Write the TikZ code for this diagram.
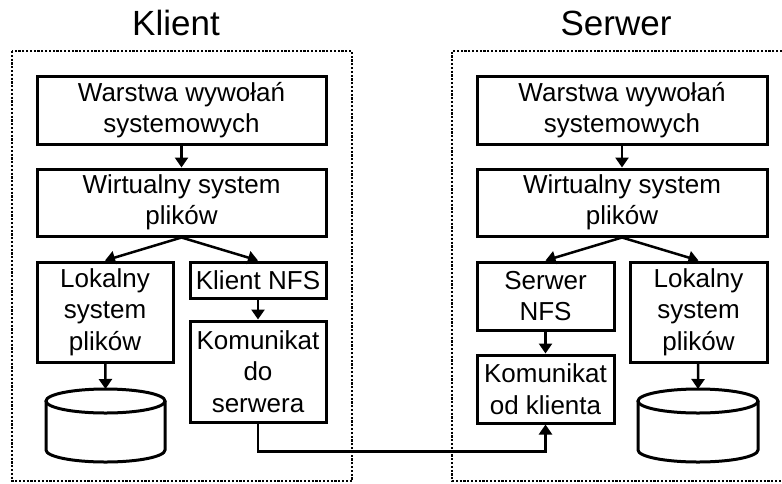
\documentclass[tikz,border=0pt]{standalone}
\usepackage{fontspec}
\setmainfont{Liberation Sans}
\usepackage{tikz}
\usetikzlibrary{arrows.meta}

\begin{document}
\begin{tikzpicture}[x=1pt, y=-1pt,
    blok/.style={draw=black, line width=3pt, inner sep=0pt, align=center,
                 font=\fontsize{26}{31.5}\selectfont},
    strzalka/.style={line width=2.5pt, -{Triangle[width=13pt,length=10pt]}},
    kropki/.style={line width=2.6pt, dash pattern=on 2.2pt off 1.6pt}]
\useasboundingbox (0,0) rectangle (782,483);
% tytuly
\node[anchor=base, font=\fontsize{35}{40}\selectfont] (tytK) at (176,35) {Klient};%
\node[anchor=base, font=\fontsize{35}{40}\selectfont] (tytS) at (616,35) {Serwer};%
% ramki
\draw[kropki] (12,51) rectangle (352,481);%
\draw[kropki] (782,51) -- (452,51) -- (452,481) -- (782,481);%
% klient
\node[blok, minimum width=289pt, minimum height=68pt] (warK) at (181.5,110) {Warstwa wywołań\\systemowych};%
\node[blok, minimum width=289pt, minimum height=67pt] (vfsK) at (181.5,202.5) {Wirtualny system\\plików};%
\node[blok, minimum width=136pt, minimum height=100pt] (lokK) at (105,312) {Lokalny\\system\\plików};%
\node[blok, minimum width=136pt, minimum height=36pt] (nfsK) at (258,280) {Klient NFS};%
\node[blok, minimum width=136pt, minimum height=101pt] (komK) at (258,371.5) {Komunikat\\do\\serwera};%
\coordinate (dyskK) at (105.5,389);%
\draw[line width=3pt, fill=white] (46,401) -- (46,450) arc[start angle=180, end angle=360, 
            x radius=59.5pt, y radius=12pt] -- (165,401);%
\draw[line width=3pt] (105.5,401) ellipse [x radius=59.5pt, y radius=12pt];%
% serwer
\node[blok, minimum width=290pt, minimum height=68pt] (warS) at (622,110) {Warstwa wywołań\\systemowych};%
\node[blok, minimum width=290pt, minimum height=67pt] (vfsS) at (622,202.5) {Wirtualny system\\plików};%
\node[blok, minimum width=137pt, minimum height=68pt] (nfsS) at (545.5,296) {Serwer\\NFS};%
\node[blok, minimum width=137pt, minimum height=68pt] (komS) at (545.5,389) {Komunikat\\od klienta};%
\node[blok, minimum width=137pt, minimum height=100pt] (lokS) at (698.5,312) {Lokalny\\system\\plików};%
\coordinate (dyskS) at (698,389);%
\draw[line width=3pt, fill=white] (638,401) -- (638,450) arc[start angle=180, end angle=360, 
            x radius=60pt, y radius=12pt] -- (758,401);%
\draw[line width=3pt] (698,401) ellipse [x radius=60pt, y radius=12pt];%
% polaczenia
\draw[strzalka] (warK) -- (vfsK);%
\draw[strzalka] (vfsK.south) -- (lokK.north);%
\draw[strzalka] (vfsK.south) -- (nfsK.north);%
\draw[strzalka] (nfsK) -- (komK);%
\draw[strzalka] (lokK) -- (dyskK);%
\draw[strzalka] (warS) -- (vfsS);%
\draw[strzalka] (vfsS.south) -- (nfsS.north);%
\draw[strzalka] (vfsS.south) -- (lokS.north);%
\draw[strzalka] (nfsS) -- (komS);%
\draw[strzalka] (lokS) -- (dyskS);%
\draw[strzalka] (komK.south) -- ++(0,28) -| (komS.south);%
\end{tikzpicture}
\end{document}
